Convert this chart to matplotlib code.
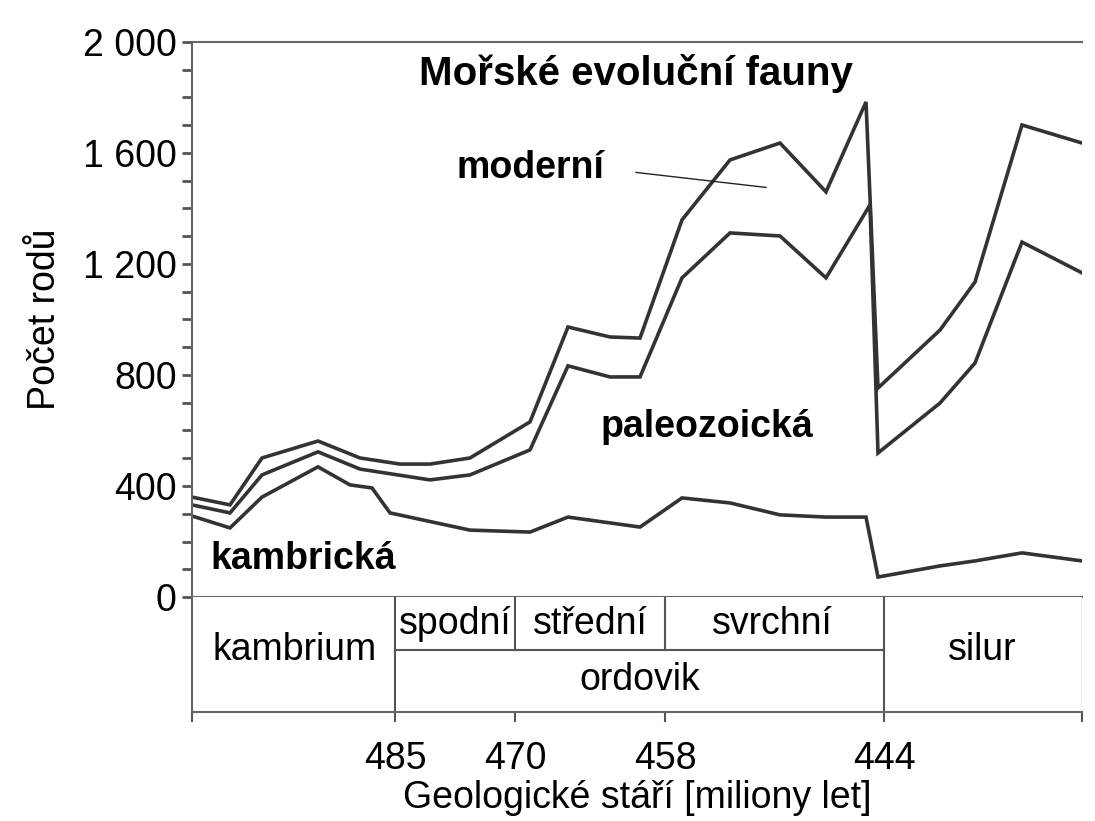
import matplotlib
matplotlib.use("Agg")
import matplotlib.pyplot as plt
from matplotlib.ticker import MultipleLocator

# position along time axis (relative units), values = number of genera
x_top = [0, 38, 70, 126, 168, 208, 238, 278, 338, 376, 418, 448, 490, 538, 588, 634, 674, 686, 748, 783, 830, 890]
total = [360, 332, 501, 562, 501, 479, 479, 501, 631, 973, 937, 933, 1359, 1575, 1636, 1460, 1784, 753, 962, 1135, 1701, 1636]
x_mid = [0, 38, 70, 126, 168, 238, 278, 338, 376, 418, 448, 490, 538, 588, 634, 678, 686, 748, 783, 830, 890]
paleo = [332, 303, 440, 523, 461, 422, 440, 530, 833, 793, 793, 1150, 1312, 1301, 1150, 1413, 519, 699, 843, 1279, 1168]
x_bot = [0, 38, 70, 126, 158, 180, 198, 278, 338, 376, 448, 490, 538, 588, 634, 674, 686, 748, 783, 830, 890]
kamb = [292, 249, 360, 469, 404, 393, 303, 241, 234, 288, 252, 357, 339, 296, 288, 288, 72, 112, 130, 159, 130]
tick_pos = [203, 323, 473, 692]
tick_labels = ["485", "470", "458", "444"]

plt.rcParams["font.family"] = "Liberation Sans"
fs = 27
fig = plt.figure(figsize=(10.95, 8.21), dpi=100)
ax = fig.add_axes([192/1095, 1-597/821, 890/1095, 555/821])
lc = "#333333"
for xs, ys in [(x_top, total), (x_mid, paleo), (x_bot, kamb)]:
    ax.plot(xs, ys, color=lc, lw=2.6, solid_joinstyle="miter")
ax.set_xlim(0, 890)
ax.set_ylim(0, 2000)
ax.set_xticks([])
ax.yaxis.set_minor_locator(MultipleLocator(100))
ax.set_yticks([0, 400, 800, 1200, 1600, 2000])
ax.set_yticklabels(["0", "400", "800", "1 200", "1 600", "2 000"], fontsize=fs)
ax.tick_params(axis="y", which="both", length=7, width=2, color="#555555", pad=4)
ax.spines["right"].set_visible(False)
for s in ["left", "top", "bottom"]:
    ax.spines[s].set_color("#666666")
    ax.spines[s].set_linewidth(1.5)
ax.set_ylabel("Počet rodů", fontsize=fs, labelpad=14)
ax.text(444, 1885, "Mořské evoluční fauny", fontsize=29, fontweight="bold", ha="center", va="center")
ax.text(338, 1545, "moderní", fontsize=fs, fontweight="bold", ha="center", va="center")
ax.plot([444, 574], [1530, 1476], color="#222222", lw=1)
ax.text(515, 612, "paleozoická", fontsize=fs, fontweight="bold", ha="center", va="center")
ax.text(18, 137, "kambrická", fontsize=fs, fontweight="bold", ha="left", va="center")

tb = fig.add_axes([192/1095, 1-712/821, 890/1095, 115/821])
tb.set_xlim(0, 890)
tb.set_ylim(0, 115)
tb.set_yticks([])
tb.set_xticks([0] + tick_pos + [890])
tb.set_xticklabels([""] + tick_labels + [""], fontsize=fs)
tb.tick_params(axis="x", length=7, width=1.5, color="#555555", pad=14)
tb.spines["right"].set_visible(False)
tb.spines["top"].set_visible(False)
for s in ["left", "bottom"]:
    tb.spines[s].set_color("#666666")
    tb.spines[s].set_linewidth(1.5)
lcol = "#555555"
tb.plot([203, 692], [62, 62], color=lcol, lw=1.5)
for p in [203, 692]:
    tb.plot([p, p], [0, 115], color=lcol, lw=1.5)
for p in [323, 473]:
    tb.plot([p, p], [62, 115], color=lcol, lw=1.5)
tb.plot([890, 890], [0, 115], color="#bbbbbb", lw=1)
tb.text(103, 62, "kambrium", fontsize=fs, ha="center", va="center")
tb.text(263, 88, "spodní", fontsize=fs, ha="center", va="center")
tb.text(398, 88, "střední", fontsize=fs, ha="center", va="center")
tb.text(580, 88, "svrchní", fontsize=fs, ha="center", va="center")
tb.text(448, 32, "ordovik", fontsize=fs, ha="center", va="center")
tb.text(790, 62, "silur", fontsize=fs, ha="center", va="center")
tb.set_xlabel("Geologické stáří [miliony let]", fontsize=fs, labelpad=2)

fig.savefig("out.png", dpi=100)
